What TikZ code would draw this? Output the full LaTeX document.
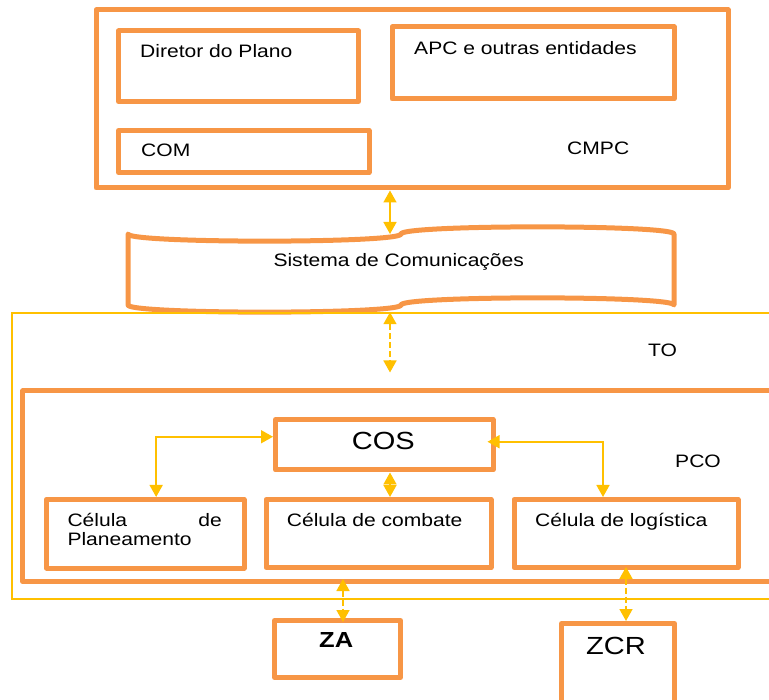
\documentclass[tikz,border=0pt]{standalone}
\usepackage{fontspec}
\setmainfont{Liberation Sans}[FakeStretch=1.17]
\usetikzlibrary{arrows.meta,calc}
\definecolor{cxLaranja}{HTML}{F79646}
\definecolor{cxAmarelo}{HTML}{FFC000}
\tikzset{
  caixa/.style={draw=cxLaranja, line width=5pt, line join=round, inner sep=0pt},
  moldura/.style={draw=cxAmarelo, line width=1.5pt, inner sep=0pt},
  rotulo/.style={font=\fontsize{18}{18.3}\selectfont, inner sep=0pt, anchor=base west},
  rotgrande/.style={font=\fontsize{24.8}{29}\selectfont, inner sep=0pt, anchor=base west},
  setadupla/.style={{Triangle[width=13pt,length=12pt]}-{Triangle[width=13pt,length=12pt]}, draw=cxAmarelo, line width=1.7pt},
  setatrac/.style={setadupla, dash pattern=on 6pt off 3pt},
}
\begin{document}
\begin{tikzpicture}[x=1pt,y=-1pt]
\path[use as bounding box, clip] (0,0) rectangle (769,700);

% CMPC
\node[caixa, minimum width=632, minimum height=178] (cmpc) at (412,99) {};
\node[caixa, minimum width=240, minimum height=70.5] (dir) at (238.5,66.25) {};
\node[caixa, minimum width=282, minimum height=72] (apc) at (533,63) {};
\node[caixa, minimum width=250.5, minimum height=42] (com) at (243.75,151.5) {};
\node[rotulo] at (140,57.7) {Diretor do Plano};
\node[rotulo] at (414,54.3) {APC e outras entidades};
\node[rotulo] at (141,156.7) {COM};
\node[rotulo] at (567,155) {CMPC};

% Sistema de Comunicacoes
\draw[caixa] (128,234) .. controls (128,243.5) and (401,243.5) .. (401,234)
  .. controls (401,224.5) and (674,224.5) .. (674,234) -- (674,305)
  .. controls (674,295.5) and (401,295.5) .. (401,305)
  .. controls (401,314.5) and (128,314.5) .. (128,305) -- cycle;
\node[minimum width=546, minimum height=71, inner sep=0pt, outer sep=0pt] (sis) at (401,269.5) {};
\node[rotulo] at (273.3,266.7) {Sistema de Comunicações};

% TO e PCO
\node[moldura, minimum width=778, minimum height=286] (to) at (401,456) {};
\node[rotulo] at (648,356.7) {TO};
\node[caixa, minimum width=767.3, minimum height=190.5] (pco) at (406.35,486.25) {};
\node[rotulo] at (675,467.7) {PCO};

\node[caixa, minimum width=217.5, minimum height=50.5] (cos) at (384.25,444.75) {};
\node[rotgrande] at (351.7,450) {COS};
\node[caixa, minimum width=197.7, minimum height=68.5] (plan) at (145.15,533.75) {};
\node[caixa, minimum width=225, minimum height=68] (comb) at (378.5,533.5) {};
\node[caixa, minimum width=224, minimum height=68] (log) at (626,533.5) {};
\node[rotulo, text width=154.4pt, align=left] at (67.3,526.7) {Célula\hfill de\\Planeamento};
\node[rotulo] at (286.7,526.7) {Célula de combate};
\node[rotulo] at (535,526.7) {Célula de logística};

% ZA e ZCR
\node[caixa, minimum width=126, minimum height=57] (za) at (337.5,649) {};
\node[rotulo, font=\bfseries\fontsize{21.8}{26}\selectfont] at (319,647.7) {ZA};
\node[caixa, minimum width=113, minimum height=116.5] (zcr) at (618,681.75) {};
\node[rotgrande] at (586,654) {ZCR};

% ligacoes
\coordinate (eixo) at (390,0);
\coordinate (eixoza) at (343,0);
\draw[setadupla] (cmpc.south -| eixo) -- (sis.north -| eixo);
\draw[setatrac] (to.north -| eixo) -- ([yshift=16]pco.north -| eixo);
\draw[setadupla] ([yshift=8]cos.west) -| ([xshift=11]plan.north);
\draw[setadupla] ([xshift=-8,yshift=3]cos.east) -| ([xshift=-23]log.north);
\draw[setadupla] (cos.south -| eixo) -- (comb.north -| eixo);
\draw[setatrac, shorten <=-5pt, shorten >=-4pt] (pco.south -| eixoza) -- (za.north -| eixoza);
\draw[setatrac, shorten <=-3pt] (log.south) -- (log.south |- zcr.north);
\end{tikzpicture}
\end{document}
